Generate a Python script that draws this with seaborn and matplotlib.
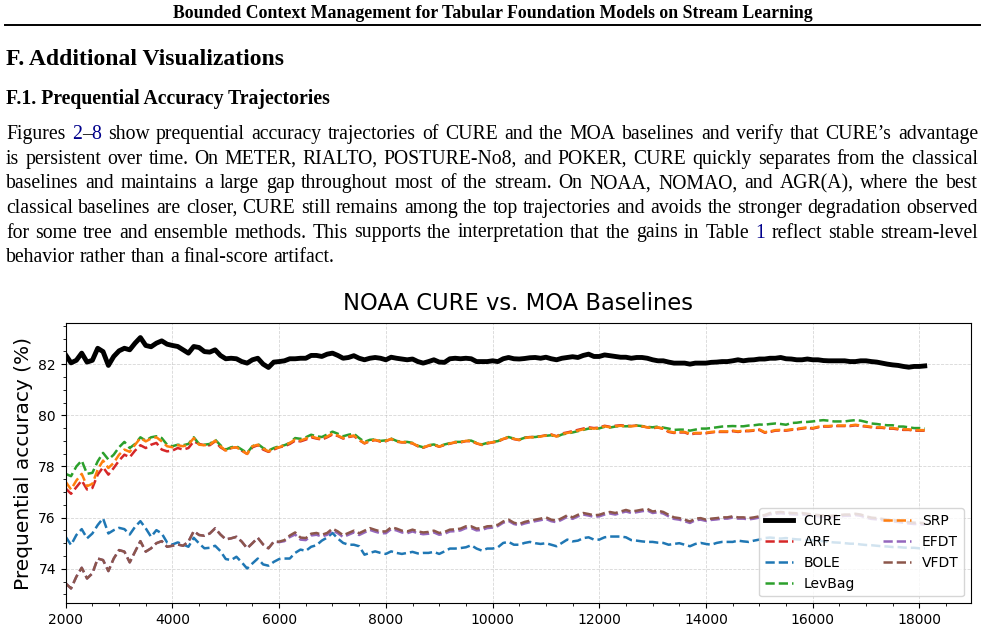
import re
import matplotlib
matplotlib.use('Agg')
import numpy as np
import pandas as pd
import seaborn as sns
from matplotlib import pyplot as plt
from matplotlib.lines import Line2D

W, H = 985, 631

# prequential accuracy (%) every 100 instances
steps = np.arange(2000, 18200, 100)

cure = [82.36, 82.05, 82.15, 82.43, 82.08, 82.15, 82.62, 82.49, 81.95, 82.30,
        82.52, 82.62, 82.56, 82.82, 83.04, 82.73, 82.68, 82.82, 82.91, 82.78,
        82.73, 82.69, 82.56, 82.43, 82.69, 82.65, 82.49, 82.47, 82.56, 82.34,
        82.21, 82.23, 82.21, 82.10, 82.04, 82.17, 82.23, 82.00, 81.87, 82.08,
        82.10, 82.13, 82.21, 82.21, 82.23, 82.23, 82.34, 82.34, 82.30, 82.39,
        82.43, 82.34, 82.23, 82.26, 82.33, 82.23, 82.17, 82.23, 82.26, 82.23,
        82.17, 82.27, 82.23, 82.20, 82.17, 82.20, 82.10, 82.04, 82.10, 82.17,
        82.08, 82.07, 82.21, 82.23, 82.21, 82.23, 82.21, 82.10, 82.10, 82.10,
        82.13, 82.10, 82.21, 82.26, 82.21, 82.20, 82.22, 82.25, 82.26, 82.23,
        82.27, 82.21, 82.17, 82.23, 82.26, 82.29, 82.26, 82.34, 82.39, 82.30,
        82.30, 82.36, 82.33, 82.30, 82.27, 82.27, 82.23, 82.26, 82.26, 82.23,
        82.17, 82.13, 82.13, 82.08, 82.04, 82.04, 82.04, 82.00, 82.04, 82.04,
        82.04, 82.07, 82.08, 82.10, 82.10, 82.13, 82.17, 82.13, 82.16, 82.17,
        82.20, 82.20, 82.23, 82.23, 82.26, 82.21, 82.20, 82.17, 82.17, 82.20,
        82.17, 82.17, 82.14, 82.13, 82.13, 82.13, 82.13, 82.10, 82.10, 82.13,
        82.13, 82.10, 82.08, 82.04, 82.00, 81.97, 81.95, 81.91, 81.88, 81.91,
        81.91, 81.93]

arf = [77.14, 76.93, 77.19, 77.45, 77.10, 77.16, 77.68, 77.97, 77.68, 77.94,
       78.23, 78.46, 78.36, 78.62, 78.83, 78.72, 78.85, 78.92, 78.66, 78.59,
       78.62, 78.72, 78.66, 78.72, 78.98, 78.88, 78.83, 78.83, 78.98, 78.75,
       78.62, 78.72, 78.75, 78.62, 78.49, 78.75, 78.83, 78.66, 78.57, 78.66,
       78.75, 78.79, 78.88, 79.01, 78.98, 79.05, 79.14, 79.09, 79.05, 79.14,
       79.25, 79.19, 79.09, 79.15, 79.19, 79.03, 78.90, 78.99, 79.03, 78.97,
       78.99, 79.07, 78.97, 78.94, 78.94, 78.90, 78.79, 78.73, 78.81, 78.84,
       78.77, 78.84, 78.89, 78.94, 78.94, 78.99, 78.99, 78.90, 78.84, 78.90,
       78.94, 78.97, 79.07, 79.13, 79.07, 79.03, 79.12, 79.15, 79.15, 79.18,
       79.22, 79.25, 79.18, 79.29, 79.33, 79.38, 79.43, 79.48, 79.53, 79.50,
       79.52, 79.59, 79.55, 79.59, 79.61, 79.59, 79.58, 79.60, 79.57, 79.53,
       79.50, 79.52, 79.47, 79.35, 79.31, 79.33, 79.33, 79.25, 79.29, 79.29,
       79.30, 79.33, 79.35, 79.35, 79.35, 79.38, 79.35, 79.38, 79.38, 79.40,
       79.43, 79.32, 79.35, 79.40, 79.41, 79.40, 79.43, 79.45, 79.48, 79.51,
       79.48, 79.53, 79.56, 79.56, 79.58, 79.58, 79.58, 79.58, 79.61, 79.58,
       79.56, 79.53, 79.51, 79.51, 79.48, 79.48, 79.45, 79.43, 79.43, 79.40,
       79.40, 79.40]

bole = [75.25, 74.93, 75.32, 75.55, 75.19, 75.38, 75.71, 75.97, 75.38, 75.51,
        75.60, 75.55, 75.34, 75.64, 75.86, 75.58, 75.25, 75.51, 75.38, 75.03,
        74.95, 75.03, 74.95, 74.86, 75.21, 74.99, 74.80, 74.82, 74.90, 74.69,
        74.38, 74.34, 74.47, 74.25, 74.01, 74.21, 74.40, 74.17, 74.12, 74.27,
        74.38, 74.40, 74.40, 74.62, 74.75, 74.70, 74.86, 74.92, 75.10, 75.22,
        75.40, 75.18, 75.01, 74.94, 74.94, 74.88, 74.55, 74.62, 74.68, 74.62,
        74.58, 74.68, 74.62, 74.58, 74.62, 74.66, 74.60, 74.62, 74.62, 74.66,
        74.58, 74.68, 74.79, 74.79, 74.81, 74.84, 74.92, 74.79, 74.71, 74.79,
        74.79, 74.84, 75.01, 75.05, 74.94, 74.94, 75.01, 75.05, 75.00, 74.97,
        75.00, 74.94, 74.88, 75.01, 75.14, 75.07, 75.10, 75.20, 75.23, 75.14,
        75.14, 75.23, 75.26, 75.26, 75.26, 75.23, 75.12, 75.10, 75.07, 75.05,
        75.05, 75.02, 75.01, 74.94, 74.97, 75.00, 74.94, 74.88, 74.97, 75.01,
        74.97, 74.94, 75.01, 75.05, 75.05, 75.05, 75.10, 75.07, 75.05, 75.10,
        75.14, 75.20, 75.22, 75.20, 75.18, 75.20, 75.17, 75.15, 75.14, 75.12,
        75.12, 75.10, 75.08, 75.05, 75.03, 75.02, 75.00, 74.98, 74.98, 74.95,
        74.93, 74.92, 74.90, 74.88, 74.87, 74.85, 74.85, 74.83, 74.82, 74.82,
        74.80, 74.80]

levbag = [77.71, 77.62, 78.00, 78.23, 77.71, 77.75, 78.20, 78.53, 78.27, 78.46,
          78.75, 78.96, 78.72, 78.88, 79.14, 79.01, 79.14, 79.18, 79.11, 78.85,
          78.79, 78.85, 78.83, 78.88, 79.14, 78.88, 78.85, 78.88, 79.05, 78.83,
          78.66, 78.75, 78.79, 78.66, 78.53, 78.79, 78.88, 78.72, 78.62, 78.72,
          78.79, 78.83, 78.92, 79.11, 79.08, 79.14, 79.24, 79.18, 79.15, 79.25,
          79.36, 79.28, 79.18, 79.24, 79.28, 79.11, 78.96, 79.04, 79.06, 79.00,
          79.02, 79.09, 79.00, 78.96, 78.96, 78.92, 78.81, 78.75, 78.83, 78.86,
          78.79, 78.86, 78.91, 78.96, 78.96, 79.01, 79.01, 78.92, 78.86, 78.92,
          78.96, 78.99, 79.09, 79.15, 79.09, 79.05, 79.12, 79.15, 79.15, 79.18,
          79.20, 79.22, 79.16, 79.25, 79.29, 79.33, 79.38, 79.43, 79.48, 79.47,
          79.49, 79.55, 79.52, 79.56, 79.58, 79.57, 79.58, 79.60, 79.58, 79.55,
          79.53, 79.56, 79.52, 79.48, 79.43, 79.44, 79.44, 79.40, 79.44, 79.48,
          79.48, 79.50, 79.53, 79.56, 79.57, 79.58, 79.57, 79.57, 79.60, 79.61,
          79.64, 79.63, 79.66, 79.68, 79.66, 79.63, 79.70, 79.71, 79.74, 79.74,
          79.76, 79.79, 79.81, 79.79, 79.76, 79.76, 79.76, 79.79, 79.81, 79.79,
          79.74, 79.68, 79.66, 79.63, 79.61, 79.61, 79.56, 79.56, 79.53, 79.50,
          79.50, 79.48]

srp = [77.40, 77.10, 77.45, 77.71, 77.23, 77.32, 77.88, 78.23, 77.94, 78.14,
       78.46, 78.66, 78.57, 78.85, 79.11, 78.98, 79.09, 79.14, 78.98, 78.79,
       78.75, 78.83, 78.79, 78.85, 79.11, 78.85, 78.83, 78.85, 79.01, 78.79,
       78.62, 78.72, 78.75, 78.62, 78.49, 78.79, 78.85, 78.70, 78.59, 78.70,
       78.75, 78.83, 78.92, 79.05, 79.01, 79.09, 79.18, 79.11, 79.08, 79.17,
       79.29, 79.21, 79.11, 79.17, 79.21, 79.04, 78.91, 79.00, 79.04, 78.98,
       79.00, 79.08, 78.98, 78.95, 78.95, 78.91, 78.80, 78.74, 78.82, 78.85,
       78.78, 78.85, 78.90, 78.95, 78.95, 79.00, 79.00, 78.91, 78.85, 78.91,
       78.95, 78.98, 79.08, 79.14, 79.08, 79.04, 79.11, 79.14, 79.14, 79.17,
       79.21, 79.24, 79.17, 79.27, 79.31, 79.35, 79.40, 79.45, 79.50, 79.48,
       79.50, 79.57, 79.53, 79.57, 79.59, 79.57, 79.57, 79.59, 79.57, 79.53,
       79.50, 79.53, 79.48, 79.37, 79.33, 79.35, 79.35, 79.27, 79.31, 79.31,
       79.32, 79.35, 79.37, 79.37, 79.37, 79.40, 79.37, 79.40, 79.40, 79.42,
       79.45, 79.34, 79.37, 79.42, 79.43, 79.42, 79.45, 79.47, 79.50, 79.53,
       79.50, 79.55, 79.58, 79.58, 79.60, 79.60, 79.60, 79.60, 79.63, 79.60,
       79.58, 79.55, 79.53, 79.53, 79.50, 79.50, 79.47, 79.45, 79.45, 79.42,
       79.42, 79.42]

efdt = [73.43, 73.23, 73.69, 74.04, 73.62, 73.82, 74.40, 74.34, 73.91, 74.40,
        74.73, 74.67, 74.25, 74.67, 75.08, 74.67, 74.80, 75.00, 75.08, 74.86,
        74.90, 74.95, 74.90, 75.06, 75.47, 75.32, 75.29, 75.38, 75.58, 75.34,
        75.15, 75.19, 75.25, 75.06, 74.80, 75.00, 75.21, 74.95, 74.80, 75.06,
        75.04, 75.08, 75.24, 75.34, 75.14, 75.12, 75.30, 75.33, 75.26, 75.33,
        75.50, 75.39, 75.24, 75.33, 75.42, 75.32, 75.42, 75.52, 75.45, 75.39,
        75.39, 75.55, 75.50, 75.42, 75.39, 75.46, 75.39, 75.35, 75.37, 75.42,
        75.33, 75.37, 75.46, 75.47, 75.50, 75.59, 75.59, 75.50, 75.52, 75.59,
        75.61, 75.67, 75.80, 75.87, 75.75, 75.70, 75.77, 75.82, 75.86, 75.90,
        75.95, 75.86, 75.82, 75.92, 76.03, 75.95, 76.05, 76.12, 76.08, 76.03,
        76.05, 76.12, 76.16, 76.12, 76.18, 76.24, 76.18, 76.21, 76.25, 76.28,
        76.18, 76.21, 76.16, 76.05, 75.95, 75.92, 75.86, 75.79, 75.90, 75.92,
        75.87, 75.91, 75.93, 75.96, 75.96, 76.00, 75.96, 75.96, 75.93, 75.96,
        76.00, 76.05, 76.13, 76.15, 76.17, 76.15, 76.13, 76.12, 76.13, 76.10,
        76.07, 76.05, 76.03, 76.01, 76.03, 76.05, 76.07, 76.07, 76.10, 76.07,
        76.00, 75.95, 75.93, 75.90, 75.87, 75.85, 75.83, 75.80, 75.77, 75.75,
        75.75, 75.73]

vfdt = [73.43, 73.23, 73.69, 74.04, 73.62, 73.82, 74.40, 74.34, 73.91, 74.40,
        74.73, 74.67, 74.25, 74.67, 75.08, 74.67, 74.80, 75.00, 75.08, 74.86,
        74.90, 74.95, 74.90, 75.06, 75.47, 75.32, 75.29, 75.38, 75.58, 75.34,
        75.15, 75.19, 75.25, 75.06, 74.80, 75.00, 75.21, 74.95, 74.80, 75.06,
        75.06, 75.12, 75.30, 75.42, 75.22, 75.20, 75.37, 75.40, 75.33, 75.40,
        75.57, 75.46, 75.31, 75.40, 75.49, 75.39, 75.49, 75.59, 75.52, 75.46,
        75.46, 75.62, 75.57, 75.49, 75.46, 75.53, 75.46, 75.42, 75.44, 75.49,
        75.40, 75.44, 75.53, 75.54, 75.57, 75.66, 75.66, 75.57, 75.59, 75.66,
        75.67, 75.72, 75.85, 75.92, 75.80, 75.75, 75.83, 75.88, 75.92, 75.96,
        76.01, 75.92, 75.88, 75.98, 76.09, 76.01, 76.11, 76.18, 76.14, 76.09,
        76.11, 76.18, 76.22, 76.18, 76.24, 76.30, 76.24, 76.27, 76.31, 76.34,
        76.24, 76.27, 76.22, 76.11, 76.01, 75.98, 75.92, 75.85, 75.96, 75.98,
        75.92, 75.96, 75.98, 76.01, 76.01, 76.05, 76.01, 76.01, 75.98, 76.01,
        76.05, 76.10, 76.18, 76.20, 76.22, 76.20, 76.18, 76.17, 76.18, 76.15,
        76.12, 76.10, 76.08, 76.06, 76.08, 76.10, 76.12, 76.12, 76.15, 76.12,
        76.05, 76.00, 75.98, 75.95, 75.92, 75.90, 75.88, 75.85, 75.82, 75.80,
        75.80, 75.78]

methods = ['CURE', 'ARF', 'BOLE', 'LevBag', 'SRP', 'EFDT', 'VFDT']
series = [cure, arf, bole, levbag, srp, efdt, vfdt]
colors = ['black', 'tab:red', 'tab:blue', 'tab:green', 'tab:orange', 'tab:purple', 'tab:brown']

df = pd.DataFrame({
    'step': np.tile(steps, len(methods)),
    'acc': np.concatenate(series),
    'method': np.repeat(methods, len(steps)),
})

# page text
header = "Bounded Context Management for Tabular Foundation Models on Stream Learning"
section = "F. Additional Visualizations"
subsection = "F.1. Prequential Accuracy Trajectories"
LINK = '#00008b'
para = [
    "Figures {2}–{8} show prequential accuracy trajectories of CURE and the MOA baselines and verify that CURE’s advantage",
    "is persistent over time. On METER, RIALTO, POSTURE-No8, and POKER, CURE quickly separates from the classical",
    "baselines and maintains a large gap throughout most of the stream. On NOAA, NOMAO, and AGR(A), where the best",
    "classical baselines are closer, CURE still remains among the top trajectories and avoids the stronger degradation observed",
    "for some tree and ensemble methods. This supports the interpretation that the gains in Table {1} reflect stable stream-level",
    "behavior rather than a final-score artifact.",
]

fig = plt.figure(figsize=(W / 100, H / 100), dpi=100)
serif = 'Liberation Serif'

fig.text(493 / W, 1 - 18 / H, header, ha='center', va='baseline',
         fontsize=12.75, fontweight='bold', family=serif)
fig.add_artist(Line2D([5 / W, 980 / W], [1 - 25 / H, 1 - 25 / H], lw=1.4, color='black'))
fig.text(6 / W, 1 - 65 / H, section, va='baseline', fontsize=17, fontweight='bold', family=serif)
fig.text(6 / W, 1 - 104 / H, subsection, va='baseline', fontsize=14.2, fontweight='bold', family=serif)

# justified paragraph, word by word
renderer = fig.canvas.get_renderer()
x0, x1 = 6, 978
for i, line in enumerate(para):
    y = 1 - (139.5 + 24.5 * i) / H
    words = []
    for w in line.split(' '):
        pieces, off = [], 0
        for p in re.split(r'(\{[^}]*\})', w):
            if not p:
                continue
            col = LINK if p.startswith('{') else 'black'
            t = fig.text(0, y, p.strip('{}'), color=col, va='baseline', fontsize=14.2, family=serif)
            pieces.append((t, off))
            off += t.get_window_extent(renderer).width
        words.append((pieces, off))
    total = sum(w for _, w in words)
    if i == len(para) - 1:
        gap = 0.25 * 14.2 * 100 / 72
    else:
        gap = (x1 - x0 - total) / (len(words) - 1)
    x = x0
    for pieces, ww in words:
        for t, off in pieces:
            t.set_x((x + off) / W)
        x += ww + gap

# chart
ax = fig.add_axes([65.7 / W, 1 - 603.3 / H, (971 - 65.7) / W, (603.3 - 322.7) / H])
for m, c in zip(methods, colors):
    if m == 'CURE':
        sns.lineplot(data=df[df.method == m], x='step', y='acc', color=c, linewidth=3.5,
                     label=m, ax=ax)
    else:
        sns.lineplot(data=df[df.method == m], x='step', y='acc', color=c, linewidth=1.8,
                     linestyle='--', label=m, ax=ax)

ax.set_xlim(2000, 18967)
ax.set_ylim(72.65, 83.62)
ax.set_xticks(range(2000, 18001, 2000))
ax.set_yticks([74, 76, 78, 80, 82])
ax.minorticks_on()
ax.grid(True, which='major', linestyle='--', linewidth=0.6, alpha=0.5)
ax.tick_params(labelsize=10)
ax.set_title('NOAA CURE vs. MOA Baselines', fontsize=16.3, pad=9)
ax.set_ylabel('Prequential accuracy (%)', fontsize=14.5)
ax.set_xlabel('')
ax.legend(loc='lower right', ncol=2, fontsize=10)

fig.savefig('out.png', dpi=100)
